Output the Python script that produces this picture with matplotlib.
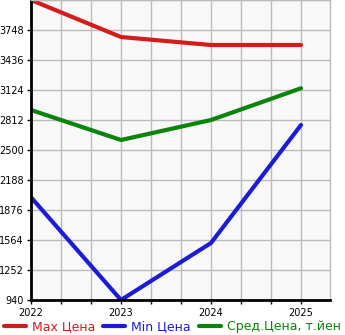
import matplotlib
matplotlib.use("Agg")
import matplotlib.pyplot as plt
from matplotlib.ticker import MultipleLocator, FixedLocator

years = [2022, 2023, 2024, 2025]
max_price = [4060, 3675, 3592, 3592]
min_price = [2008, 940, 1533, 2760]
avg_price = [2916, 2604, 2812, 3142]
yticks = [940, 1252, 1564, 1876, 2188, 2500, 2812, 3124, 3436, 3748]
labels = ["Max Цена", "Min Цена", "Сред.Цена, т.йен"]
colors = ["#d41c1c", "#1c1cd8", "#0a840a"]

fig = plt.figure(figsize=(3.45, 3.35), dpi=100)
ax = fig.add_axes([31/345, 35/335, 299/345, 300/335])
ax.set_facecolor("#f8f8f8")

for vals, lab, c in zip([max_price, min_price, avg_price], labels, colors):
    ax.plot(years, vals, color=c, lw=3, solid_capstyle="round", label=lab)

ax.set_xlim(2022, 2025 + 29/90)
ax.set_ylim(940, 4060)
ax.yaxis.set_major_locator(FixedLocator(yticks))
ax.xaxis.set_major_locator(FixedLocator(years))
ax.xaxis.set_minor_locator(MultipleLocator(1/3))
ax.yaxis.set_minor_locator(FixedLocator([4060]))
ax.grid(True, which="both", color="#bbbbbb", lw=1)
ax.set_axisbelow(True)
ax.tick_params(axis="both", which="major", labelsize=7, length=3, width=1, color="black", pad=2)
ax.tick_params(axis="x", which="major", pad=3)
ax.tick_params(axis="x", which="minor", length=3, width=1)
ax.tick_params(axis="y", which="minor", length=0)
for s in ["left", "bottom"]:
    ax.spines[s].set_linewidth(2)
    ax.spines[s].set_color("black")
for s in ["top", "right"]:
    ax.spines[s].set_color("#bbbbbb")
    ax.spines[s].set_linewidth(1)

leg = fig.legend(loc="lower left", bbox_to_anchor=(-0.014, -0.02), ncol=3, frameon=False,
                 fontsize=9, handlelength=1.75, handletextpad=0.5, columnspacing=0.62,
                 borderpad=0.2, labelcolor="linecolor")
fig.savefig("out.png", dpi=100)
